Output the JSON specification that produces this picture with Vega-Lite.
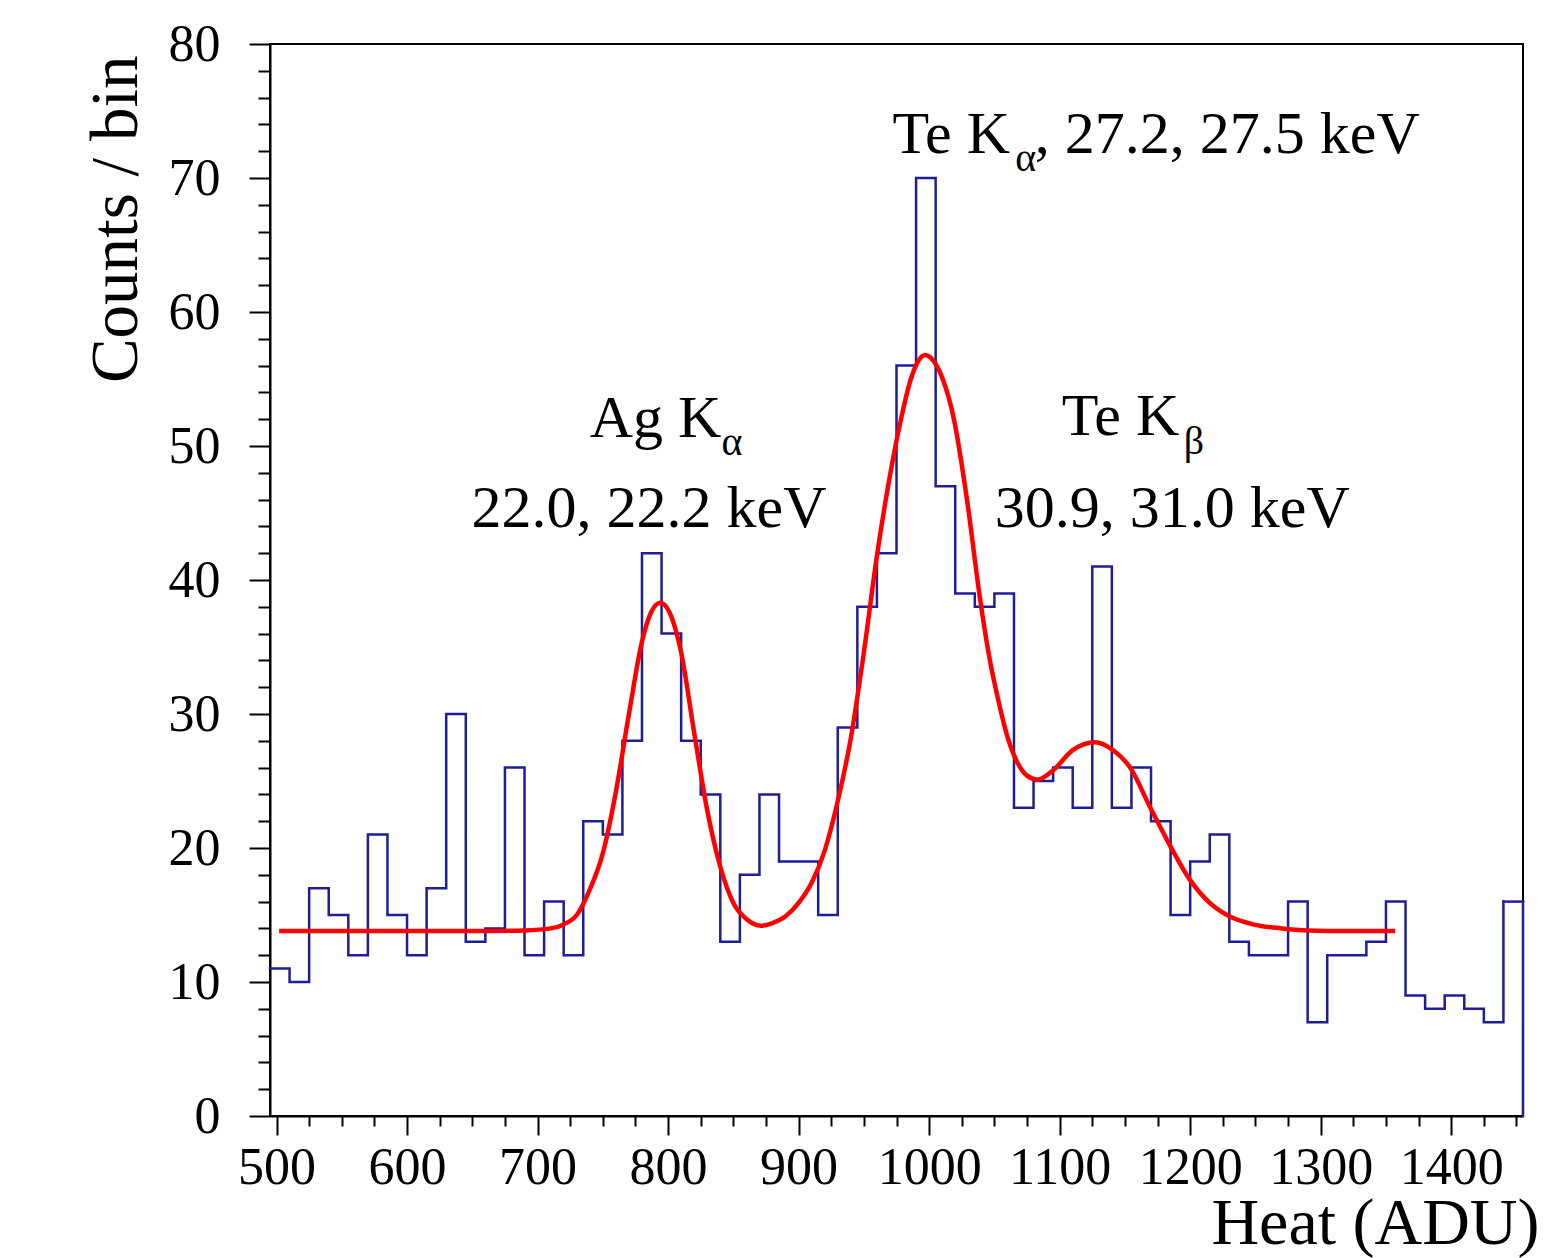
{
  "$schema": "https://vega.github.io/schema/vega-lite/v6.json",
  "width": 1253,
  "height": 1072,
  "autosize": {"type": "none"},
  "padding": {"left": 270, "top": 44, "right": 35, "bottom": 142},
  "background": "white",
  "config": {
    "view": {"stroke": "black", "strokeWidth": 2},
    "font": "Liberation Serif",
    "axis": {
      "labelFont": "Liberation Serif",
      "titleFont": "Liberation Serif",
      "labelColor": "black",
      "titleColor": "black",
      "titleFontWeight": "normal",
      "domainColor": "black",
      "domainWidth": 2,
      "tickColor": "black",
      "tickWidth": 2,
      "grid": false,
      "labelFlush": false,
      "labelOverlap": false
    }
  },
  "resolve": {"axis": {"x": "independent", "y": "independent"}},
  "datasets": {
    "spectrum": [
      {"lo": 495, "hi": 510, "count": 11},
      {"lo": 510, "hi": 525, "count": 10},
      {"lo": 525, "hi": 540, "count": 17},
      {"lo": 540, "hi": 555, "count": 15},
      {"lo": 555, "hi": 570, "count": 12},
      {"lo": 570, "hi": 585, "count": 21},
      {"lo": 585, "hi": 600, "count": 15},
      {"lo": 600, "hi": 615, "count": 12},
      {"lo": 615, "hi": 630, "count": 17},
      {"lo": 630, "hi": 645, "count": 30},
      {"lo": 645, "hi": 660, "count": 13},
      {"lo": 660, "hi": 675, "count": 14},
      {"lo": 675, "hi": 690, "count": 26},
      {"lo": 690, "hi": 705, "count": 12},
      {"lo": 705, "hi": 720, "count": 16},
      {"lo": 720, "hi": 735, "count": 12},
      {"lo": 735, "hi": 750, "count": 22},
      {"lo": 750, "hi": 765, "count": 21},
      {"lo": 765, "hi": 780, "count": 28},
      {"lo": 780, "hi": 795, "count": 42},
      {"lo": 795, "hi": 810, "count": 36},
      {"lo": 810, "hi": 825, "count": 28},
      {"lo": 825, "hi": 840, "count": 24},
      {"lo": 840, "hi": 855, "count": 13},
      {"lo": 855, "hi": 870, "count": 18},
      {"lo": 870, "hi": 885, "count": 24},
      {"lo": 885, "hi": 900, "count": 19},
      {"lo": 900, "hi": 915, "count": 19},
      {"lo": 915, "hi": 930, "count": 15},
      {"lo": 930, "hi": 945, "count": 29},
      {"lo": 945, "hi": 960, "count": 38},
      {"lo": 960, "hi": 975, "count": 42},
      {"lo": 975, "hi": 990, "count": 56},
      {"lo": 990, "hi": 1005, "count": 70},
      {"lo": 1005, "hi": 1020, "count": 47},
      {"lo": 1020, "hi": 1035, "count": 39},
      {"lo": 1035, "hi": 1050, "count": 38},
      {"lo": 1050, "hi": 1065, "count": 39},
      {"lo": 1065, "hi": 1080, "count": 23},
      {"lo": 1080, "hi": 1095, "count": 25},
      {"lo": 1095, "hi": 1110, "count": 26},
      {"lo": 1110, "hi": 1125, "count": 23},
      {"lo": 1125, "hi": 1140, "count": 41},
      {"lo": 1140, "hi": 1155, "count": 23},
      {"lo": 1155, "hi": 1170, "count": 26},
      {"lo": 1170, "hi": 1185, "count": 22},
      {"lo": 1185, "hi": 1200, "count": 15},
      {"lo": 1200, "hi": 1215, "count": 19},
      {"lo": 1215, "hi": 1230, "count": 21},
      {"lo": 1230, "hi": 1245, "count": 13},
      {"lo": 1245, "hi": 1260, "count": 12},
      {"lo": 1260, "hi": 1275, "count": 12},
      {"lo": 1275, "hi": 1290, "count": 16},
      {"lo": 1290, "hi": 1305, "count": 7},
      {"lo": 1305, "hi": 1320, "count": 12},
      {"lo": 1320, "hi": 1335, "count": 12},
      {"lo": 1335, "hi": 1350, "count": 13},
      {"lo": 1350, "hi": 1365, "count": 16},
      {"lo": 1365, "hi": 1380, "count": 9},
      {"lo": 1380, "hi": 1395, "count": 8},
      {"lo": 1395, "hi": 1410, "count": 9},
      {"lo": 1410, "hi": 1425, "count": 8},
      {"lo": 1425, "hi": 1440, "count": 7},
      {"lo": 1440, "hi": 1455, "count": 16}
    ],
    "fit": [
      {"e": 502, "f": 13.8}, {"e": 550, "f": 13.8}, {"e": 600, "f": 13.8},
      {"e": 650, "f": 13.8}, {"e": 690, "f": 13.85}, {"e": 710, "f": 14.0},
      {"e": 720, "f": 14.3}, {"e": 730, "f": 15.0}, {"e": 740, "f": 16.9},
      {"e": 750, "f": 19.6}, {"e": 760, "f": 24.2}, {"e": 770, "f": 30.0},
      {"e": 780, "f": 35.4}, {"e": 787, "f": 37.6}, {"e": 794, "f": 38.3},
      {"e": 801, "f": 37.6}, {"e": 810, "f": 34.6}, {"e": 820, "f": 28.6},
      {"e": 830, "f": 22.8}, {"e": 840, "f": 18.6}, {"e": 850, "f": 15.9},
      {"e": 860, "f": 14.7}, {"e": 871, "f": 14.2}, {"e": 880, "f": 14.4},
      {"e": 890, "f": 14.9}, {"e": 900, "f": 15.9}, {"e": 910, "f": 17.4},
      {"e": 920, "f": 19.8}, {"e": 930, "f": 23.5}, {"e": 940, "f": 28.2},
      {"e": 950, "f": 34.6}, {"e": 960, "f": 41.8}, {"e": 970, "f": 47.8},
      {"e": 978, "f": 51.8}, {"e": 986, "f": 55.0}, {"e": 992, "f": 56.4},
      {"e": 997, "f": 56.8}, {"e": 1003, "f": 56.4}, {"e": 1010, "f": 55.1},
      {"e": 1019, "f": 52.0}, {"e": 1029, "f": 46.0}, {"e": 1039, "f": 38.6},
      {"e": 1046, "f": 34.3}, {"e": 1054, "f": 30.6}, {"e": 1060, "f": 28.3},
      {"e": 1067, "f": 26.5}, {"e": 1075, "f": 25.4}, {"e": 1083, "f": 25.1},
      {"e": 1095, "f": 25.8}, {"e": 1110, "f": 27.3}, {"e": 1127, "f": 27.9},
      {"e": 1141, "f": 27.3}, {"e": 1154, "f": 26.0}, {"e": 1169, "f": 23.1},
      {"e": 1185, "f": 20.1}, {"e": 1200, "f": 17.6}, {"e": 1215, "f": 15.9},
      {"e": 1230, "f": 14.9}, {"e": 1248, "f": 14.3}, {"e": 1270, "f": 14.0},
      {"e": 1290, "f": 13.85}, {"e": 1320, "f": 13.8}, {"e": 1357, "f": 13.8}
    ],
    "notes": [
      {"e": 972, "c": 71.9, "t": "Te K"},
      {"e": 1081, "c": 71.9, "t": ", 27.2, 27.5 keV"},
      {"e": 740, "c": 50.67, "t": "Ag K"},
      {"e": 649.4, "c": 43.96, "t": "22.0, 22.2 keV"},
      {"e": 1101.7, "c": 50.82, "t": "Te K"},
      {"e": 1050.3, "c": 43.96, "t": "30.9, 31.0 keV"}
    ],
    "subscripts": [
      {"e": 1066, "c": 70.5, "t": "α"},
      {"e": 841, "c": 49.3, "t": "α"},
      {"e": 1195, "c": 49.4, "t": "β"}
    ]
  },
  "layer": [
    {
      "data": {"name": "spectrum"},
      "mark": {"type": "line", "interpolate": "step-after", "color": "#1e1e98", "strokeWidth": 2.5, "strokeJoin": "miter", "strokeCap": "square"},
      "encoding": {
        "x": {
          "field": "lo",
          "type": "quantitative",
          "scale": {"domain": [495, 1455], "nice": false, "zero": false},
          "axis": {
            "orient": "bottom",
            "title": "Heat (ADU)",
            "values": [500, 600, 700, 800, 900, 1000, 1100, 1200, 1300, 1400],
            "format": "d",
            "tickSize": 19,
            "labelFontSize": 52,
            "labelBaseline": "alphabetic",
            "labelPadding": 48,
            "titleFontSize": 66,
            "titleAlign": "right",
            "titleBaseline": "alphabetic",
            "titleAnchor": "end",
            "titleX": 1269,
            "titleY": 127
          }
        },
        "y": {
          "field": "count",
          "type": "quantitative",
          "scale": {"domain": [0, 80], "nice": false, "zero": true},
          "axis": {
            "orient": "left",
            "title": "Counts / bin",
            "values": [0, 10, 20, 30, 40, 50, 60, 70, 80],
            "format": "d",
            "tickSize": 21,
            "labelFontSize": 52,
            "labelAlign": "right",
            "labelBaseline": "middle",
            "labelPadding": 29,
            "titleFontSize": 67,
            "titleAngle": 270,
            "titleAlign": "right",
            "titleBaseline": "alphabetic",
            "titleAnchor": "end",
            "titleX": -134,
            "titleY": 11
          }
        }
      }
    },
    {
      "data": {"name": "spectrum"},
      "transform": [{"filter": {"field": "lo", "equal": 1440}}],
      "mark": {"type": "rule", "color": "#1e1e98", "strokeWidth": 2.5, "strokeCap": "square"},
      "encoding": {
        "x": {"field": "lo", "type": "quantitative", "axis": null},
        "x2": {"field": "hi"},
        "y": {"field": "count", "type": "quantitative", "axis": null}
      }
    },
    {
      "data": {"name": "spectrum"},
      "transform": [{"filter": {"field": "lo", "equal": 1440}}],
      "mark": {"type": "rule", "color": "#1e1e98", "strokeWidth": 2.5, "strokeCap": "square"},
      "encoding": {
        "x": {"field": "hi", "type": "quantitative", "axis": null},
        "y": {"field": "count", "type": "quantitative", "axis": null},
        "y2": {"datum": 0}
      }
    },
    {
      "data": {"name": "fit"},
      "mark": {"type": "line", "interpolate": "monotone", "color": "#ff0000", "strokeWidth": 4.5, "strokeCap": "butt"},
      "encoding": {
        "x": {
          "field": "e",
          "type": "quantitative",
          "axis": {
            "orient": "bottom",
            "title": null,
            "labels": false,
            "domain": false,
            "tickSize": 10,
            "values": [525, 550, 575, 625, 650, 675, 725, 750, 775, 825, 850, 875, 925, 950, 975, 1025, 1050, 1075, 1125, 1150, 1175, 1225, 1250, 1275, 1325, 1350, 1375, 1425, 1450]
          }
        },
        "y": {
          "field": "f",
          "type": "quantitative",
          "axis": {
            "orient": "left",
            "title": null,
            "labels": false,
            "domain": false,
            "tickSize": 12,
            "values": [2, 4, 6, 8, 12, 14, 16, 18, 22, 24, 26, 28, 32, 34, 36, 38, 42, 44, 46, 48, 52, 54, 56, 58, 62, 64, 66, 68, 72, 74, 76, 78]
          }
        }
      }
    },
    {
      "data": {"name": "notes"},
      "mark": {"type": "text", "font": "Liberation Serif", "fontSize": 60, "align": "left", "baseline": "alphabetic", "color": "black"},
      "encoding": {
        "x": {"field": "e", "type": "quantitative", "axis": null},
        "y": {"field": "c", "type": "quantitative", "axis": null},
        "text": {"field": "t"}
      }
    },
    {
      "data": {"name": "subscripts"},
      "mark": {"type": "text", "font": "Liberation Serif", "fontSize": 40, "align": "left", "baseline": "alphabetic", "color": "black"},
      "encoding": {
        "x": {"field": "e", "type": "quantitative", "axis": null},
        "y": {"field": "c", "type": "quantitative", "axis": null},
        "text": {"field": "t"}
      }
    }
  ]
}
